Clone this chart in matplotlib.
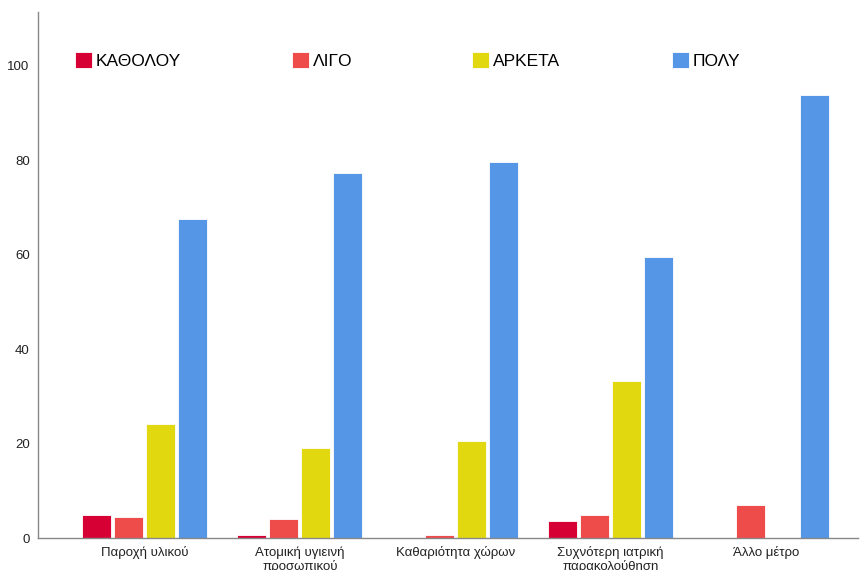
import numpy as np
import matplotlib
matplotlib.use("Agg")
from matplotlib import pyplot as plt
from matplotlib.patches import Patch
from matplotlib.legend import Legend

plt.rcParams['font.family'] = ['Liberation Sans', 'DejaVu Sans']

categories = ["Παροχή υλικού", "Ατομική υγιεινή\nπροσωπικού", "Καθαριότητα χώρων",
              "Συχνότερη ιατρική\nπαρακολούθηση", "Άλλο μέτρο"]
series_names = ["ΚΑΘΟΛΟΥ", "ΛΙΓΟ", "ΑΡΚΕΤΑ", "ΠΟΛΥ"]
katholou = [4.8, 0.6, 0.0, 3.5, 0.0]
ligo = [4.4, 4.1, 0.6, 4.8, 7.0]
arketa = [24.2, 19.1, 20.6, 33.3, 0.0]
poly = [67.6, 77.3, 79.7, 59.5, 93.9]
yticks = [0, 20, 40, 60, 80, 100]

colors = ["#d70035", "#ee4b4b", "#e2d80f", "#5596e6"]
series = [katholou, ligo, arketa, poly]

fig = plt.figure(figsize=(8.63, 5.70), dpi=100)
ax = fig.add_axes([0.044, 0.0561, 0.95, 0.923])

x = np.arange(len(categories))
pitch = 0.206
width = 0.186
for i, (vals, col) in enumerate(zip(series, colors)):
    offs = (i - 1.5) * pitch
    ax.bar(x + offs, vals, width=width, color=col,
           edgecolor='#ffffff', linewidth=0.6)

ax.set_xlim(-0.685, 4.59)
ax.set_ylim(0, 111.4)
ax.set_xticks(x)
ax.set_xticklabels(categories, fontsize=9.5, color='#222222', linespacing=1.1)
ax.set_yticks(yticks)
ax.set_yticklabels([str(v) for v in yticks], fontsize=9.5, color='#222222')
ax.tick_params(axis='x', length=0, pad=6)
ax.tick_params(axis='y', length=0, pad=6)

for side in ['top', 'right']:
    ax.spines[side].set_visible(False)
for side in ['left', 'bottom']:
    ax.spines[side].set_color('#888888')
    ax.spines[side].set_linewidth(1.0)

# legend entries sit at uneven spots, so one small legend per entry
legend_x = [0.045, 0.31, 0.529, 0.773]
for name, col, lx in zip(series_names, colors, legend_x):
    h = Patch(facecolor=col, edgecolor='#ffffff', linewidth=0.6)
    leg = Legend(ax, [h], [name], loc='center left', bbox_to_anchor=(lx, 0.907),
                 frameon=False, fontsize=12.5, handlelength=1.0, handleheight=1.0,
                 handletextpad=0.2, borderaxespad=0, borderpad=0)
    ax.add_artist(leg)

fig.savefig("out.png", dpi=100)
